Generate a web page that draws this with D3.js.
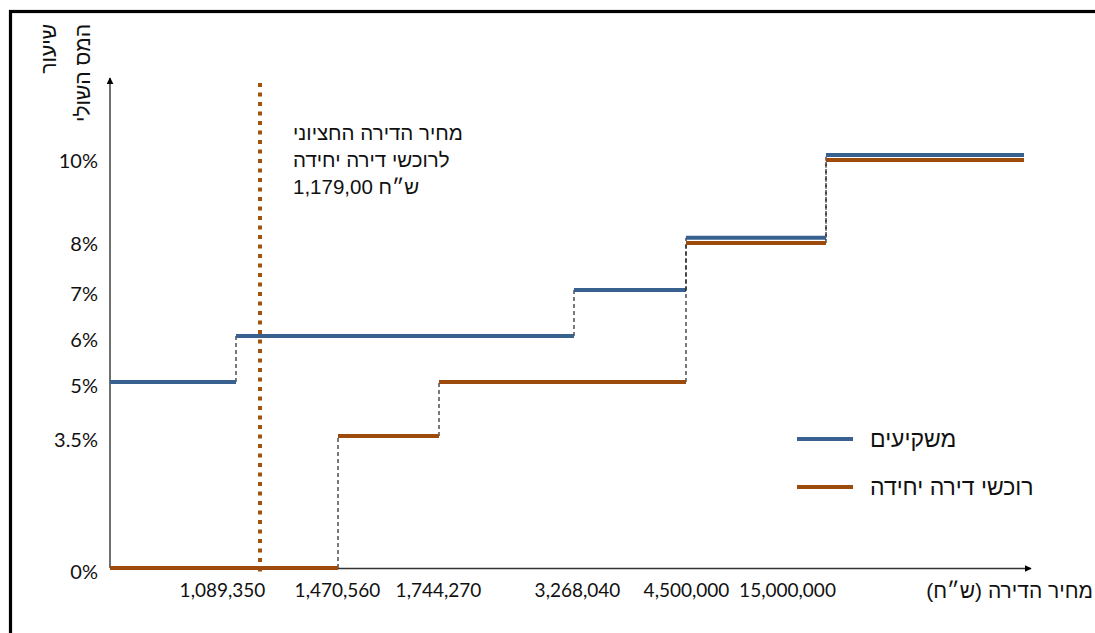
<!DOCTYPE html>
<html lang="he">
<head>
<meta charset="utf-8">
<script src="https://cdn.jsdelivr.net/npm/d3@7/dist/d3.min.js"></script>
<style>
  html, body { margin: 0; padding: 0; background: #fff; }
  svg { display: block; font-family: "Liberation Sans", Arial, "DejaVu Sans", sans-serif; }
</style>
</head>
<body>
<svg id="chart" width="1095" height="633"></svg>
<script>
// Bracket thresholds of the apartment price (NIS); the last bracket is open-ended
const thresholds = [1089350, 1470560, 1744270, 3268040, 4500000, 15000000];
const thresholdLabels = ["1,089,350", "1,470,560", "1,744,270", "3,268,040", "4,500,000", "15,000,000"];

// Marginal tax rate (%) for each of the 7 brackets
const investors = [5, 6, 6, 6, 7, 8, 10];
const singleHomeBuyers = [0, 0, 3.5, 5, 5, 8, 10];

// Rate tick values and labels on the vertical axis
const rateTicks = [0, 3.5, 5, 6, 7, 8, 10];
const rateTickLabels = ["0%", "3.5%", "5%", "6%", "7%", "8%", "10%"];

// Median price for single-home buyers
const medianPrice = 1179000;

const seriesNames = ["משקיעים", "רוכשי דירה יחידה"];
const colors = ["#38618f", "#9c4b0c"];

const svg = d3.select("#chart");

// Bracket edges are drawn at uneven spacing: edge k (0..7) maps to a fixed position
const edgeScale = d3.scaleLinear()
  .domain([0, 1, 2, 3, 4, 5, 6, 7])
  .range([110, 236, 338, 439, 574, 686, 826, 1024]);

// Convert a price into a fractional edge index (within its bracket)
function priceToEdge(p) {
  const edges = [0, ...thresholds];
  for (let k = 0; k < edges.length - 1; k++) {
    if (p <= edges[k + 1]) return k + (p - edges[k]) / (edges[k + 1] - edges[k]);
  }
  return edges.length - 1;
}

// Vertical axis is stretched unevenly between the labelled rates
const y = d3.scaleLinear()
  .domain(rateTicks)
  .range([568, 436, 382, 336, 290, 240.3, 157.5]);

// Outer frame
svg.append("rect")
  .attr("x", 10.5).attr("y", 11.5)
  .attr("width", 1200).attr("height", 800)
  .attr("fill", "none").attr("stroke", "#000").attr("stroke-width", 3.2);

// Arrow marker for the axes
const defs = svg.append("defs");
defs.append("marker")
  .attr("id", "arrow")
  .attr("viewBox", "0 0 10 10")
  .attr("refX", 9).attr("refY", 5)
  .attr("markerWidth", 7).attr("markerHeight", 7)
  .attr("markerUnits", "userSpaceOnUse")
  .attr("orient", "auto")
  .append("path").attr("d", "M0,0 L10,5 L0,10 Z").attr("fill", "#000");

// Axes lines with arrow heads
svg.append("line")
  .attr("x1", edgeScale(0)).attr("y1", y(0))
  .attr("x2", edgeScale(0)).attr("y2", 78)
  .attr("stroke", "#333").attr("stroke-width", 1.4)
  .attr("marker-end", "url(#arrow)");
svg.append("line")
  .attr("x1", edgeScale(0)).attr("y1", y(0) + 0.5)
  .attr("x2", 1031).attr("y2", y(0) + 0.5)
  .attr("stroke", "#333").attr("stroke-width", 1.4)
  .attr("marker-end", "url(#arrow)");

// Rate tick labels
const yAxis = d3.axisLeft(y)
  .tickValues(rateTicks)
  .tickSize(0)
  .tickPadding(0)
  .tickFormat((d, i) => rateTickLabels[i]);
const gy = svg.append("g").attr("transform", "translate(98,0)").call(yAxis);
gy.select(".domain").remove();
gy.selectAll("text")
  .attr("dy", "0.36em")
  .attr("y", 3)
  .attr("font-size", 20)
  .attr("font-family", "Lato, 'Liberation Sans', sans-serif")
  .attr("fill", "#111");

// Threshold tick labels (some nudged left of their step)
const tickLabelNudge = [-14, -1, -1, 3, 0, -39];
const xAxis = d3.axisBottom(edgeScale)
  .tickValues(d3.range(1, thresholds.length + 1))
  .tickSize(0)
  .tickPadding(0)
  .tickFormat((d) => thresholdLabels[d - 1]);
const gx = svg.append("g").attr("transform", "translate(0,584)").call(xAxis);
gx.select(".domain").remove();
gx.selectAll(".tick text")
  .attr("dy", 0)
  .attr("y", 13)
  .attr("x", (d) => tickLabelNudge[d - 1])
  .attr("font-size", 19)
  .attr("font-family", "Lato, 'Liberation Sans', sans-serif")
  .attr("fill", "#111");

// Horizontal axis title
svg.append("text")
  .attr("x", 1093).attr("y", 598)
  .attr("direction", "rtl")
  .attr("text-anchor", "start")
  .attr("font-size", 21)
  .attr("fill", "#111")
  .text("מחיר הדירה (ש״ח)");

// Vertical axis title, rotated
const yTitle = ["שיעור", "המס השולי"];
yTitle.forEach((t, i) => {
  svg.append("text")
    .attr("transform", `translate(${56 + i * 34},24) rotate(-90)`)
    .attr("text-anchor", "end")
    .attr("font-size", 21)
    .attr("fill", "#111")
    .text(t);
});

// Median price reference line
const medianX = edgeScale(priceToEdge(medianPrice));
svg.append("line")
  .attr("x1", medianX).attr("y1", 83)
  .attr("x2", medianX).attr("y2", 572)
  .attr("stroke", "#a0520f")
  .attr("stroke-width", 4)
  .attr("stroke-dasharray", "4 5.5");

const medianLines = ["מחיר הדירה החציוני", "לרוכשי דירה יחידה", "1,179,00 ש״ח"];
medianLines.forEach((t, i) => {
  svg.append("text")
    .attr("x", 293).attr("y", 140 + i * 27)
    .attr("font-size", 20.5)
    .attr("fill", "#111")
    .text(t);
});

// Step series: horizontal bracket segments, dashed risers between brackets
const series = [investors, singleHomeBuyers];
const shift = [-2.6, 2.6];   // separates the two series where the rates coincide

function levelY(s, i) {
  const same = investors[i] === singleHomeBuyers[i];
  return y(series[s][i]) + (same ? shift[s] : 0);
}

series.forEach((vals, s) => {
  const g = svg.append("g");
  // risers
  for (let i = 1; i < vals.length; i++) {
    if (vals[i] !== vals[i - 1]) {
      g.append("line")
        .attr("x1", edgeScale(i)).attr("x2", edgeScale(i))
        .attr("y1", levelY(s, i - 1)).attr("y2", levelY(s, i))
        .attr("stroke", "#222")
        .attr("stroke-width", 1.2)
        .attr("stroke-dasharray", "4 3");
    }
  }
  // levels
  g.selectAll(".lvl")
    .data(vals)
    .join("line")
    .attr("x1", (d, i) => edgeScale(i))
    .attr("x2", (d, i) => edgeScale(i + 1))
    .attr("y1", (d, i) => levelY(s, i))
    .attr("y2", (d, i) => levelY(s, i))
    .attr("stroke", colors[s])
    .attr("stroke-width", 4);
});

// Legend
seriesNames.forEach((name, i) => {
  const ly = 439 + i * 48;
  svg.append("line")
    .attr("x1", 797).attr("x2", 853)
    .attr("y1", ly).attr("y2", ly)
    .attr("stroke", colors[i]).attr("stroke-width", 4);
  svg.append("text")
    .attr("x", 870).attr("y", ly + 8)
    .attr("font-size", 23)
    .attr("fill", "#111")
    .text(name);
});
</script>
</body>
</html>
